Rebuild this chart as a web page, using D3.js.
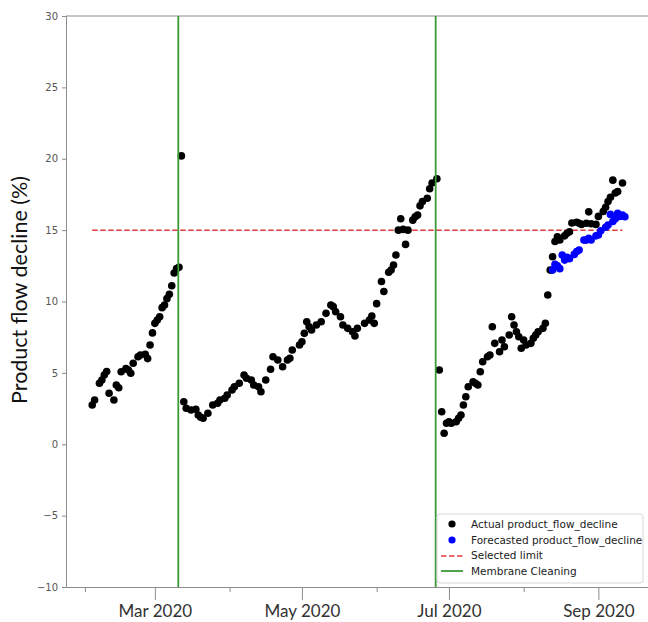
<!DOCTYPE html>
<html>
<head>
<meta charset="utf-8">
<script src="https://cdn.jsdelivr.net/npm/d3@7"></script>
<style>
  body { margin: 0; background: #fff; }
</style>
</head>
<body>
<div class="chart"></div>
<script>
// actual product flow decline (%)
const actualDates = [
    '2020-02-04', '2020-02-05', '2020-02-07', '2020-02-08', '2020-02-09', '2020-02-10', '2020-02-11', '2020-02-13',
    '2020-02-14', '2020-02-15', '2020-02-16', '2020-02-18', '2020-02-19', '2020-02-20', '2020-02-21', '2020-02-23',
    '2020-02-24', '2020-02-26', '2020-02-27', '2020-02-28', '2020-02-29', '2020-03-01', '2020-03-02', '2020-03-03',
    '2020-03-04', '2020-03-05', '2020-03-06', '2020-03-07', '2020-03-08', '2020-03-09', '2020-03-10', '2020-03-11',
    '2020-03-12',
    '2020-03-13', '2020-03-14', '2020-03-16', '2020-03-18', '2020-03-19', '2020-03-20', '2020-03-21', '2020-03-23',
    '2020-03-25', '2020-03-27', '2020-03-28', '2020-03-30', '2020-03-31', '2020-04-02', '2020-04-03', '2020-04-05',
    '2020-04-07', '2020-04-08', '2020-04-10', '2020-04-11', '2020-04-13', '2020-04-14', '2020-04-16', '2020-04-18',
    '2020-04-19', '2020-04-21', '2020-04-23', '2020-04-25', '2020-04-26', '2020-04-27', '2020-04-30', '2020-05-01',
    '2020-05-02', '2020-05-03', '2020-05-04', '2020-05-05', '2020-05-07', '2020-05-09', '2020-05-11', '2020-05-13',
    '2020-05-14', '2020-05-15', '2020-05-17', '2020-05-18', '2020-05-20', '2020-05-22', '2020-05-23', '2020-05-24',
    '2020-05-27', '2020-05-29', '2020-05-30', '2020-05-31', '2020-06-01', '2020-06-03', '2020-06-04', '2020-06-06',
    '2020-06-07', '2020-06-08', '2020-06-09', '2020-06-10', '2020-06-11', '2020-06-12', '2020-06-13', '2020-06-14',
    '2020-06-16', '2020-06-17', '2020-06-18', '2020-06-19', '2020-06-20', '2020-06-22', '2020-06-23', '2020-06-24',
    '2020-06-26',
    '2020-06-27', '2020-06-28', '2020-06-29', '2020-06-30', '2020-07-01', '2020-07-02', '2020-07-04', '2020-07-05',
    '2020-07-06', '2020-07-07', '2020-07-08', '2020-07-09', '2020-07-11', '2020-07-12', '2020-07-13', '2020-07-14',
    '2020-07-15', '2020-07-17', '2020-07-18', '2020-07-19', '2020-07-20', '2020-07-22', '2020-07-23', '2020-07-24',
    '2020-07-26', '2020-07-27', '2020-07-28', '2020-07-29', '2020-07-30', '2020-07-31', '2020-08-01', '2020-08-02',
    '2020-08-04', '2020-08-05', '2020-08-06', '2020-08-07', '2020-08-09', '2020-08-10', '2020-08-11', '2020-08-12',
    '2020-08-13', '2020-08-14', '2020-08-15', '2020-08-16', '2020-08-18', '2020-08-19', '2020-08-20', '2020-08-21',
    '2020-08-23', '2020-08-24', '2020-08-25', '2020-08-27', '2020-08-28', '2020-08-29', '2020-08-31', '2020-09-01',
    '2020-09-03', '2020-09-04', '2020-09-05', '2020-09-06', '2020-09-07', '2020-09-08', '2020-09-09', '2020-09-11'
];
const actualValues = [
    2.75, 3.1, 4.27, 4.5, 4.85, 5.1, 3.57, 3.1,
    4.15, 3.96, 5.08, 5.3, 5.2, 4.97, 5.67, 6.13,
    6.25, 6.3, 6.0, 6.95, 7.8, 8.47, 8.7, 8.93,
    9.57, 9.75, 10.2, 10.5, 11.1, 12.0, 12.3, 12.4,
    20.2,
    2.98, 2.52, 2.4, 2.45, 2.05, 1.89, 1.82, 2.17,
    2.75, 2.87, 3.1, 3.22, 3.45, 3.8, 4.03, 4.27,
    4.85, 4.62, 4.5, 4.15, 4.03, 3.68, 4.5, 5.25,
    6.13, 5.9, 5.43, 5.9, 6.02, 6.6, 6.95, 7.18,
    7.77, 8.58, 8.23, 8.0, 8.35, 8.58, 9.17, 9.75,
    9.64, 9.28, 8.93, 8.35, 8.12, 7.88, 7.58, 8.12,
    8.47, 8.7, 8.98, 8.47, 9.85, 11.4, 10.7, 12.05,
    12.2, 12.55, 13.26, 15.0, 15.8, 15.05, 14.0, 15.0,
    15.7, 15.94, 16.06, 16.7, 17.0, 17.23, 17.9, 18.3,
    18.6,
    5.2, 2.28, 0.77, 1.47, 1.58, 1.47, 1.58, 1.82,
    2.05, 2.75, 3.33, 4.03, 4.38, 4.27, 4.15, 5.08,
    5.78, 6.13, 6.25, 8.23, 7.07, 6.48, 7.3, 6.83,
    7.65, 8.93, 8.35, 7.88, 7.53, 6.72, 7.3, 6.95,
    7.07, 7.42, 7.65, 7.88, 8.12, 8.47, 10.46, 12.2,
    13.14, 14.2, 14.54, 14.31, 14.6, 14.78, 14.89, 15.5,
    15.55, 15.48, 15.4, 15.48, 16.28, 15.45, 15.4, 15.96,
    16.3, 16.6, 17.0, 17.3, 18.5, 17.6, 17.7, 18.3
];

// forecasted product flow decline (%)
const forecastDates = [
    '2020-08-13', '2020-08-14', '2020-08-15', '2020-08-16', '2020-08-17', '2020-08-18', '2020-08-19', '2020-08-20',
    '2020-08-22', '2020-08-23', '2020-08-24', '2020-08-26', '2020-08-27', '2020-08-28', '2020-08-29', '2020-08-31',
    '2020-09-01', '2020-09-02', '2020-09-04', '2020-09-05', '2020-09-06', '2020-09-07', '2020-09-08', '2020-09-09',
    '2020-09-10', '2020-09-11', '2020-09-12'
];
const forecastValues = [
    12.2, 12.6, 12.5, 12.3, 13.26, 12.9, 13.1, 13.0,
    13.3, 13.5, 13.6, 14.3, 14.3, 14.42, 14.31, 14.6,
    14.66, 14.95, 15.2, 15.36, 16.1, 15.6, 15.8, 16.18,
    15.95, 16.06, 15.94
];

const cleaningDates = ['2020-03-10 17:00', '2020-06-25 12:00'];
const selectedLimit = 15;

const majorTicks = ['2020-03-01', '2020-05-01', '2020-07-01', '2020-09-01'];
const minorTicks = ['2020-02-01', '2020-04-01', '2020-06-01', '2020-08-01'];
const yTicks = [-10, -5, 0, 5, 10, 15, 20, 25, 30];

const legendLabels = ['Actual product_flow_decline', 'Forecasted product_flow_decline', 'Selected limit', 'Membrane Cleaning'];

const parseDay = d3.timeParse('%Y-%m-%d');
const parseTime = d3.timeParse('%Y-%m-%d %H:%M');

const width = 648, height = 622;
const margin = {top: 16, left: 66, bottom: 35};
const plotRight = 649;

const svg = d3.select('.chart')
    .append('svg')
    .attr('width', width)
    .attr('height', height);

const x = d3.scaleTime()
    .domain([new Date(2020, 0, 24, 3), new Date(2020, 8, 22)])
    .range([margin.left, plotRight]);

const y = d3.scaleLinear()
    .domain([-10, 30])
    .range([height - margin.bottom, margin.top]);

const actual = actualDates.map((d, i) => ({date: parseDay(d), value: actualValues[i]}));
const forecast = forecastDates.map((d, i) => ({date: parseDay(d), value: forecastValues[i]}));

// spines
const spineColor = '#8c8c8c';
svg.append('line')
    .attr('x1', margin.left).attr('x2', plotRight)
    .attr('y1', margin.top).attr('y2', margin.top)
    .attr('stroke', spineColor);

// y axis
const yAxis = svg.append('g')
    .attr('transform', `translate(${margin.left},0)`)
    .call(d3.axisLeft(y).tickValues(yTicks).tickSize(4).tickPadding(4));
yAxis.select('.domain').attr('stroke', spineColor);
yAxis.selectAll('.tick line').attr('stroke', spineColor);
yAxis.selectAll('.tick text')
    .style('font-family', 'DejaVu Sans')
    .style('font-size', '10px')
    .attr('fill', '#555');

// x axis, labelled months plus minor months
const xAxis = svg.append('g')
    .attr('transform', `translate(0,${height - margin.bottom})`)
    .call(d3.axisBottom(x)
        .tickValues(majorTicks.map(parseDay))
        .tickFormat(d3.timeFormat('%b %Y'))
        .tickSizeInner(13)
        .tickSizeOuter(0)
        .tickPadding(4));
xAxis.select('.domain').attr('stroke', spineColor);
xAxis.selectAll('.tick line').attr('stroke', spineColor);
xAxis.selectAll('.tick text')
    .style('font-family', 'Lato')
    .style('font-size', '17px')
    .attr('fill', '#333')
    .attr('dy', '0.78em');

const xMinor = svg.append('g')
    .attr('transform', `translate(0,${height - margin.bottom})`)
    .call(d3.axisBottom(x)
        .tickValues(minorTicks.map(parseDay))
        .tickFormat('')
        .tickSizeInner(5)
        .tickSizeOuter(0));
xMinor.select('.domain').remove();
xMinor.selectAll('.tick line').attr('stroke', spineColor);

// y label
svg.append('text')
    .attr('transform', 'translate(27,290) rotate(-90)')
    .style('text-anchor', 'middle')
    .style('font-family', 'Lato')
    .style('font-size', '21.5px')
    .attr('fill', '#111')
    .text('Product flow decline (%)');

// selected limit
svg.append('line')
    .attr('x1', x(actual[0].date))
    .attr('x2', x(actual[actual.length - 1].date))
    .attr('y1', y(selectedLimit))
    .attr('y2', y(selectedLimit))
    .attr('stroke', '#e23b3b')
    .attr('stroke-width', 1.5)
    .attr('stroke-dasharray', '5.5,2.5');

// points
svg.append('g')
    .selectAll('circle')
    .data(actual)
    .enter()
    .append('circle')
    .attr('cx', d => x(d.date))
    .attr('cy', d => y(d.value))
    .attr('r', 3.8)
    .attr('fill', '#000');

svg.append('g')
    .selectAll('circle')
    .data(forecast)
    .enter()
    .append('circle')
    .attr('cx', d => x(d.date))
    .attr('cy', d => y(d.value))
    .attr('r', 3.8)
    .attr('fill', '#0000ff');

// membrane cleaning
svg.append('g')
    .selectAll('line')
    .data(cleaningDates.map(parseTime))
    .enter()
    .append('line')
    .attr('x1', d => x(d))
    .attr('x2', d => x(d))
    .attr('y1', margin.top)
    .attr('y2', height - margin.bottom)
    .attr('stroke', '#3a9a3a')
    .attr('stroke-width', 1.8);

// legend
const legend = svg.append('g').attr('transform', 'translate(437,514)');
legend.append('rect')
    .attr('width', 206)
    .attr('height', 69)
    .attr('rx', 3)
    .attr('fill', 'rgba(255,255,255,0.85)')
    .attr('stroke', '#d6d6d6');

legend.append('circle').attr('cx', 15).attr('cy', 10).attr('r', 3.6).attr('fill', '#000');
legend.append('circle').attr('cx', 15).attr('cy', 26).attr('r', 3.6).attr('fill', '#0000ff');
legend.append('line')
    .attr('x1', 4).attr('x2', 26).attr('y1', 42).attr('y2', 42)
    .attr('stroke', '#e23b3b').attr('stroke-width', 1.5).attr('stroke-dasharray', '5.5,2.5');
legend.append('line')
    .attr('x1', 4).attr('x2', 26).attr('y1', 57).attr('y2', 57)
    .attr('stroke', '#3a9a3a').attr('stroke-width', 1.8);

legend.selectAll('text.label')
    .data(legendLabels)
    .enter()
    .append('text')
    .attr('class', 'label')
    .attr('x', 34)
    .attr('y', (d, i) => 10 + i * 15.7)
    .style('dominant-baseline', 'central')
    .style('font-family', 'DejaVu Sans')
    .style('font-size', '10.5px')
    .attr('fill', '#222')
    .text(d => d);
</script>
</body>
</html>
